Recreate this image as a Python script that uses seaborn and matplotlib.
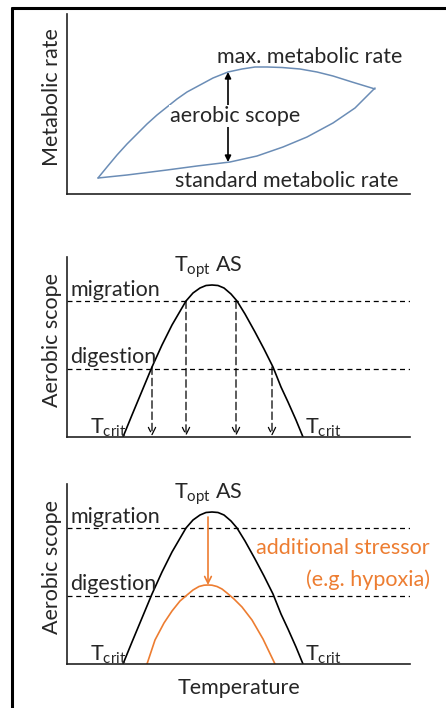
import numpy as np
import pandas as pd
import seaborn as sns
import matplotlib.pyplot as plt
from matplotlib.lines import Line2D

# ============================================
# DATA (arbitrary units)
# ============================================

# panel 1: metabolic rate vs temperature
mmr_temp = [31, 40, 50, 60, 70, 80, 90, 100, 110, 120, 133, 146, 161, 175, 188,
            200, 215, 233, 250, 266, 285, 308]
mmr_rate = [16, 27, 39, 50, 60, 70, 79, 87, 95, 102, 109, 116, 122, 125, 127,
            127, 126.5, 125, 122, 118, 112, 105]
smr_temp = [31, 60, 100, 130, 163, 190, 216, 240, 266, 288, 308]
smr_rate = [16, 19, 24, 28, 32, 38, 47, 57, 71, 86, 106]
scope_arrow_temp = 161
scope_arrow_rate = [122, 32]

# panel 2/3: aerobic scope curve (thermal performance)
as_temp = [56, 65, 75, 85, 95, 105, 112, 119, 126, 133, 139, 145, 151, 157,
           164, 170, 178, 188, 197, 206, 214, 221, 229, 236]
as_value = [0, 22, 46, 70, 92, 112, 124, 136, 144, 149, 151.5, 152, 151.5, 149,
            143, 136, 123, 105, 88, 70, 50, 35, 17, 0]

# reduced curve with additional stressor
stress_temp = [80, 88, 97, 105, 113, 120, 126, 132, 137, 141, 145, 150, 155,
               160, 167, 175, 185, 196, 208]
stress_value = [0, 24, 41, 53, 63, 69, 74, 77.5, 78.8, 79, 78.8, 77.5, 75,
                71, 65, 57, 44, 25, 0]
stress_arrow = [147, 79]
t_opt = 141

# activity thresholds
migration_level = 136
digestion_level = 68
threshold_temps = [85, 119, 169, 205]
threshold_levels = [70, 136, 136, 70]

xmax, ymax = 343, 180

blue = '#6b8db6'
orange = '#ed7d31'

sns.set_theme(style='white')
plt.rcParams['font.family'] = ['Lato', 'DejaVu Sans']
plt.rcParams['mathtext.fontset'] = 'custom'
plt.rcParams['mathtext.rm'] = 'Lato'
plt.rcParams['mathtext.it'] = 'Lato'

fs = 15.5
fig = plt.figure(figsize=(4.46, 7.08), dpi=100)

ax1 = fig.add_axes([67/446, 1-194/708, 343/446, 180/708])
ax2 = fig.add_axes([67/446, 1-437/708, 343/446, 180/708])
ax3 = fig.add_axes([67/446, 1-664/708, 343/446, 180/708])

# ---- panel 1 ----
sns.lineplot(x=mmr_temp, y=mmr_rate, ax=ax1, color=blue, lw=1.1, sort=False)
sns.lineplot(x=smr_temp, y=smr_rate, ax=ax1, color=blue, lw=1.1, sort=False)
ax1.annotate('', xy=(scope_arrow_temp, scope_arrow_rate[0]),
             xytext=(scope_arrow_temp, scope_arrow_rate[1]),
             arrowprops=dict(arrowstyle='<|-|>', color='black', lw=1.2,
                             mutation_scale=9, shrinkA=0, shrinkB=0))
ax1.text(168, 78, 'aerobic scope', fontsize=fs, ha='center', va='center',
         bbox=dict(facecolor='white', edgecolor='none', pad=0.5))
ax1.text(150, 137, 'max. metabolic rate', fontsize=fs, ha='left', va='center')
ax1.text(108, 13, 'standard metabolic rate', fontsize=fs, ha='left', va='center')


def scope_panel(ax):
    sns.lineplot(x=as_temp, y=as_value, ax=ax, color='black', lw=1.2)
    ax.axhline(migration_level, color='black', lw=0.9, ls=(0, (4, 3)))
    ax.axhline(digestion_level, color='black', lw=0.9, ls=(0, (4, 3)))
    ax.text(3, migration_level + 11, 'migration', fontsize=fs, ha='left', va='center')
    ax.text(3, digestion_level + 12, 'digestion', fontsize=fs, ha='left', va='center')
    ax.text(t_opt, 170, r'T$_{\mathrm{opt}}$ AS', fontsize=fs, ha='center', va='center')
    ax.text(23, 9, r'T$_{\mathrm{crit}}$', fontsize=fs, ha='left', va='center')
    ax.text(238, 9, r'T$_{\mathrm{crit}}$', fontsize=fs, ha='left', va='center')


# ---- panel 2 ----
scope_panel(ax2)
for t, lvl in zip(threshold_temps, threshold_levels):
    ax2.annotate('', xy=(t, 1), xytext=(t, lvl),
                 arrowprops=dict(arrowstyle='->', color='black', lw=0.9,
                                 ls=(0, (6, 3)), mutation_scale=13,
                                 shrinkA=0, shrinkB=0))

# ---- panel 3 ----
scope_panel(ax3)
sns.lineplot(x=stress_temp, y=stress_value, ax=ax3, color=orange, lw=1.2)
ax3.annotate('', xy=(t_opt, stress_arrow[1]), xytext=(t_opt, stress_arrow[0]),
             arrowprops=dict(arrowstyle='->', color=orange, lw=1.2,
                             mutation_scale=12, shrinkA=0, shrinkB=0))
ax3.text(363, 116, 'additional stressor', fontsize=fs, color=orange, ha='right', va='center')
ax3.text(363, 84, '(e.g. hypoxia)', fontsize=fs, color=orange, ha='right', va='center')

# axes styling + labels (after lineplot, which hides labels without ticks)
for ax, lab in ((ax1, 'Metabolic rate'), (ax2, 'Aerobic scope'), (ax3, 'Aerobic scope')):
    ax.set_xlim(0, xmax)
    ax.set_ylim(0, ymax)
    ax.set_xticks([])
    ax.set_yticks([])
    sns.despine(ax=ax)
    for s in ('left', 'bottom'):
        ax.spines[s].set_color('#222222')
        ax.spines[s].set_linewidth(1.2)
    ax.set_ylabel(lab, fontsize=fs, visible=True)
    ax.yaxis.set_label_coords(-0.015, 0.54)
    ax.set_xlabel('', visible=False)
ax3.set_xlabel('Temperature', fontsize=fs, labelpad=10, visible=True)

# outer frame (cut off at right/bottom like the source)
fig.add_artist(Line2D([12/446, 12/446], [0, 1-8/708], color='black', lw=2.2,
                      transform=fig.transFigure))
fig.add_artist(Line2D([12/446, 1], [1-8/708, 1-8/708], color='black', lw=2.2,
                      transform=fig.transFigure))

fig.savefig('out.png', dpi=100)
